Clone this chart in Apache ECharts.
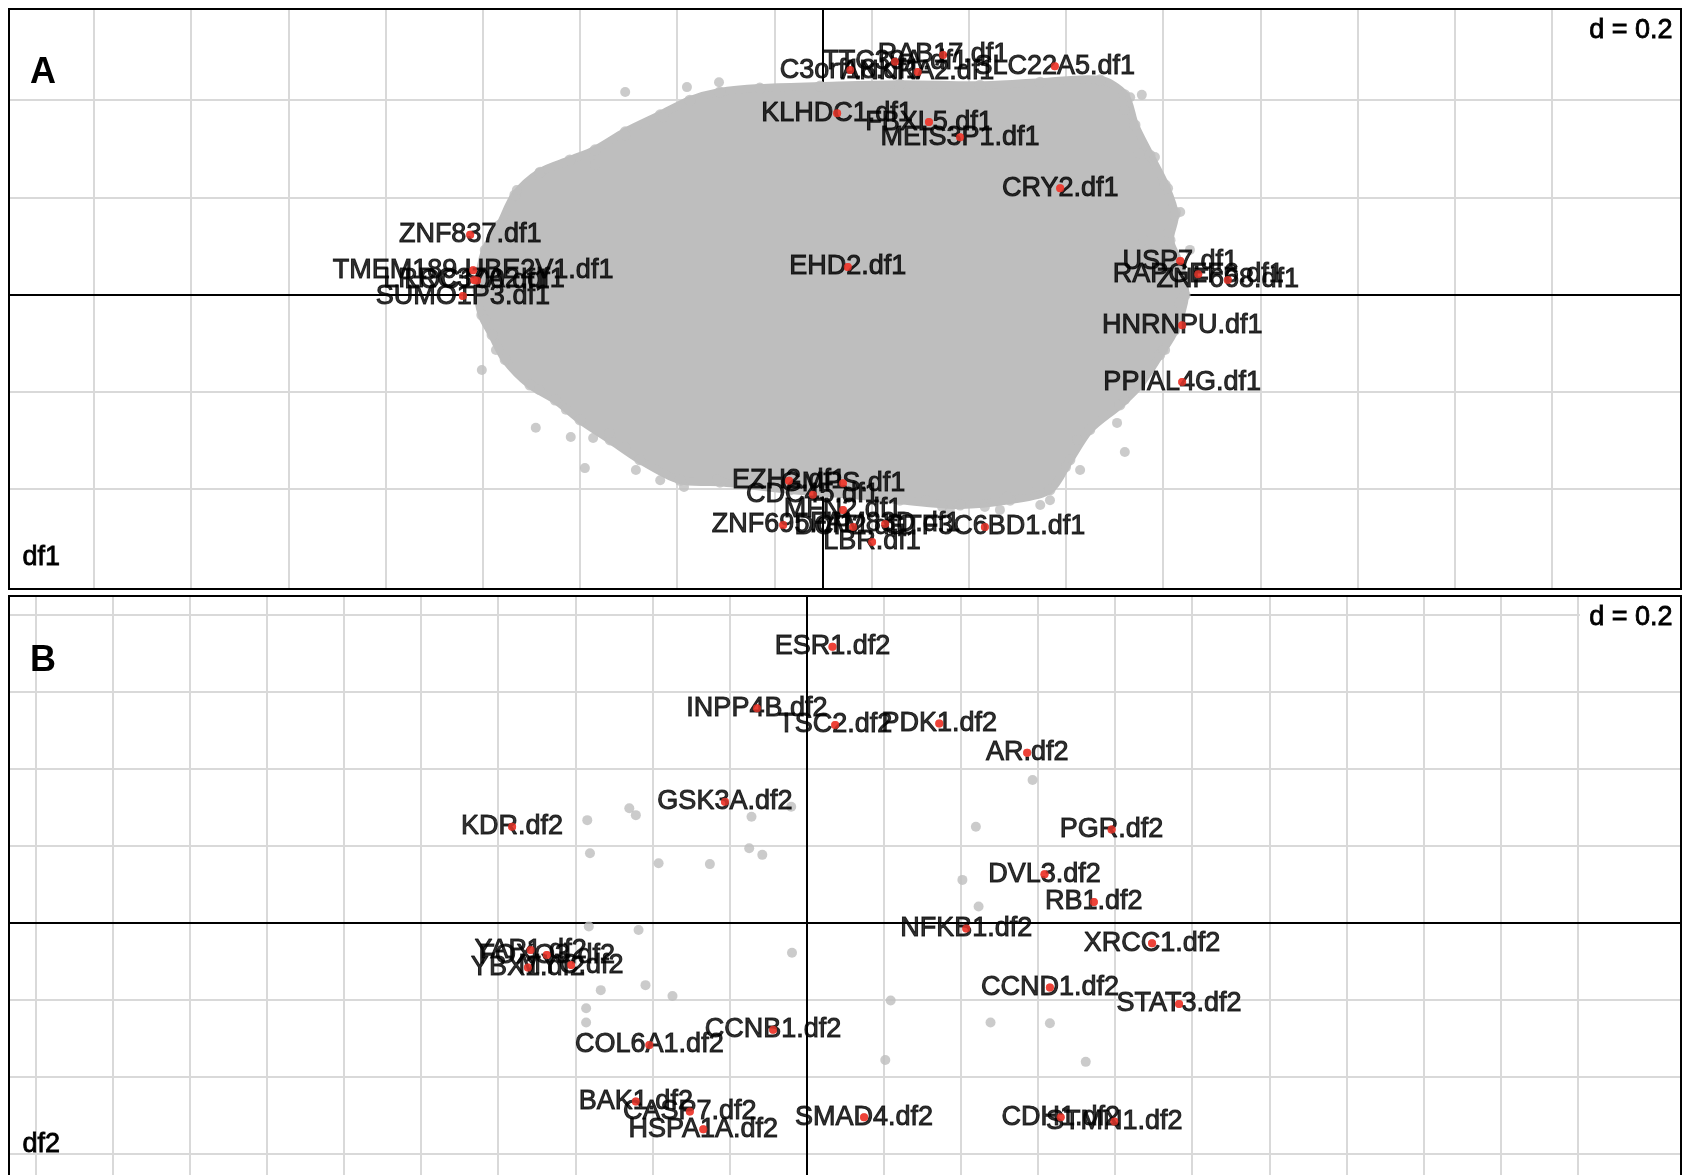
<!DOCTYPE html>
<html><head><meta charset="utf-8">
<script src="https://cdn.jsdelivr.net/npm/echarts@6/dist/echarts.min.js"></script>
<style>html,body{margin:0;padding:0;background:#fff}#c{width:1690px;height:1175px}</style>
</head><body><div id="c"></div>
<script>
// ---------- grid (d = 0.2) ----------
const gridXA = [-1.5,-1.3,-1.1,-0.9,-0.7,-0.5,-0.3,-0.1,0.1,0.3,0.5,0.7,0.9,1.1,1.3,1.5];
const gridYA = [-0.4,-0.2,0,0.2,0.4];
const gridXB = [-2.0,-1.8,-1.6,-1.4,-1.2,-1.0,-0.8,-0.6,-0.4,-0.2,0,0.2,0.4,0.6,0.8,1.0,1.2,1.4,1.6,1.8,2.0];
const gridYB = [-0.6,-0.4,-0.2,0,0.2,0.4,0.6,0.8];

// ---------- panel A: outline of the dense grey cloud (df1 genes) ----------
const cloudX = [-0.710,-0.695,-0.665,-0.634,-0.582,-0.521,-0.469,-0.407,-0.335,-0.274,-0.212,-0.130,-0.006,0.158,0.323,0.447,0.570,0.621,0.642,0.673,0.704,0.724,0.714,0.735,0.745,0.724,0.693,0.652,0.611,0.549,0.508,0.467,0.385,0.282,0.158,0.056,-0.068,-0.212,-0.294,-0.377,-0.438,-0.500,-0.551,-0.603,-0.654,-0.681,-0.702];
const cloudY = [0.009,0.092,0.143,0.205,0.252,0.277,0.298,0.335,0.370,0.400,0.417,0.425,0.429,0.433,0.431,0.437,0.442,0.411,0.349,0.287,0.226,0.164,0.112,0.061,-0.001,-0.073,-0.124,-0.186,-0.227,-0.278,-0.340,-0.402,-0.423,-0.433,-0.423,-0.412,-0.402,-0.386,-0.382,-0.340,-0.299,-0.258,-0.217,-0.186,-0.134,-0.083,-0.042];
// scattered grey points on the ragged edge of the cloud
const edgeAX = [-0.407,-0.280,-0.214,-0.702,-0.591,-0.519,-0.490,-0.385,-0.335,0.605,0.621,0.656,0.710,0.735,0.755,0.704,0.447,0.364,0.261,0.529,
  -0.329,-0.407,-0.469,-0.584,-0.630,-0.652,-0.695,-0.673,-0.584,-0.529,-0.473,-0.440,-0.407,-0.286,-0.218,0.733,0.700,0.621,0.523,0.500,0.467,0.422,0.379,0.333,0.245,0.212,0.123,0.632,0.621,0.650,0.683,0.726,0.710,0.660,0.621];
const edgeAY = [0.417,0.427,0.437,-0.155,-0.274,-0.293,-0.357,-0.361,-0.382,-0.264,-0.324,0.411,0.219,0.170,0.092,-0.114,-0.433,-0.443,-0.443,-0.361,
  0.365,0.328,0.267,0.250,0.215,0.127,-0.052,-0.114,-0.196,-0.237,-0.295,-0.285,-0.314,-0.396,-0.381,-0.017,-0.114,-0.217,-0.299,-0.355,-0.423,-0.402,-0.416,-0.437,-0.437,-0.423,-0.408,0.406,0.380,0.291,0.283,0.170,0.127,0.112,0.065];

// ---------- panel A: labelled genes ----------
const labA = ['C3orf18.df1','TTC39A.df1','ANKRA2.df1','RAB17.df1','SLC22A5.df1','KLHDC1.df1','FBXL5.df1','MEIS3P1.df1','CRY2.df1','ZNF837.df1','EHD2.df1','USP7.df1','RAPGEF6.df1','ZNF668.df1','HNRNPU.df1','PPIAL4G.df1','TMEM189.UBE2V1.df1','LRRC37A2.df1','LOC100.df1','SUMO1P3.df1','EZH2.df1','GMPS.df1','CDC45.df1','MFN2.df1','ZNF695.df1','GTF3C6BD1.df1','LBR.df1','DCP2.df1','FAM83D.df1'];
const labAX = [0.056,0.148,0.195,0.247,0.477,0.029,0.218,0.282,0.488,-0.726,0.051,0.735,0.772,0.833,0.739,0.739,-0.720,-0.718,-0.712,-0.741,-0.070,0.041,-0.021,0.041,-0.082,0.333,0.101,0.062,0.128];
const labAY = [0.462,0.479,0.458,0.493,0.470,0.373,0.355,0.324,0.219,0.123,0.057,0.069,0.042,0.030,-0.063,-0.180,0.050,0.030,0.029,-0.003,-0.383,-0.388,-0.412,-0.443,-0.474,-0.478,-0.509,-0.478,-0.472];

// ---------- panel B: grey points (df2 genes) ----------
const grayBX = [-0.460,-0.443,-0.569,-0.143,-0.040,-0.562,-0.384,-0.251,-0.149,-0.115,0.586,0.439,0.404,0.446,0.218,0.477,0.631,0.204,0.724,-0.565,-0.436,-0.038,-0.534,-0.418,-0.348,-0.572,-0.572];
const grayBY = [0.297,0.279,0.266,0.275,0.301,0.180,0.154,0.152,0.193,0.176,0.370,0.249,0.111,0.042,-0.202,-0.259,-0.261,-0.356,-0.361,-0.010,-0.019,-0.078,-0.175,-0.162,-0.190,-0.222,-0.259];

// ---------- panel B: labelled genes ----------
const labB = ['ESR1.df2','INPP4B.df2','TSC2.df2','PDK1.df2','AR.df2','GSK3A.df2','KDR.df2','PGR.df2','DVL3.df2','RB1.df2','NFKB1.df2','XRCC1.df2','CCND1.df2','STAT3.df2','CDH1.df2','STMN1.df2','SMAD4.df2','YAP1.df2','FOXO3.df2','MYC.df2','YBX1.df2','COL6A1.df2','CCNB1.df2','BAK1.df2','CASP7.df2','HSPA1A.df2'];
const labBX = [0.067,-0.129,0.074,0.344,0.572,-0.212,-0.764,0.791,0.617,0.745,0.414,0.896,0.631,0.966,0.659,0.798,0.149,-0.716,-0.674,-0.611,-0.723,-0.408,-0.087,-0.443,-0.303,-0.268];
const labBY = [0.716,0.556,0.513,0.517,0.441,0.314,0.249,0.242,0.126,0.054,-0.015,-0.053,-0.168,-0.211,-0.505,-0.516,-0.505,-0.071,-0.084,-0.110,-0.116,-0.317,-0.278,-0.464,-0.490,-0.536];

const GRAY = '#bebebe', RED = '#ee3b2f', GRIDC = '#d9d9d9';
const FONT = '"Liberation Sans", Arial, sans-serif';
const zip = (xs, ys) => xs.map((x, i) => [x, ys[i]]);
const named = (ns, xs, ys) => ns.map((n, i) => ({name: n, value: [xs[i], ys[i]]}));

function gridSeries(idx, gx, gy) {
  return [{
    type: 'scatter', xAxisIndex: idx, yAxisIndex: idx, data: [], z: 0, silent: true,
    markLine: {z: 0, silent: true, symbol: 'none', animation: false, label: {show: false},
      lineStyle: {color: GRIDC, width: 2, type: 'solid'},
      data: gx.map(v => ({xAxis: v})).concat(gy.map(v => ({yAxis: v})))}
  }, {
    type: 'scatter', xAxisIndex: idx, yAxisIndex: idx, data: [], z: 1, silent: true,
    markLine: {z: 1, silent: true, symbol: 'none', animation: false, label: {show: false},
      lineStyle: {color: '#000', width: 2, type: 'solid'},
      data: [{xAxis: 0}, {yAxis: 0}]}
  }];
}
function labelSeries(idx, data) {
  return [{
    type: 'scatter', xAxisIndex: idx, yAxisIndex: idx, data: data, z: 3, symbolSize: 8,
    itemStyle: {color: RED},
    label: {show: true, position: 'inside', formatter: '{b}', color: '#000',
      fontSize: 27, fontFamily: FONT, textBorderColor: '#000', textBorderWidth: 1}
  }, {
    type: 'scatter', xAxisIndex: idx, yAxisIndex: idx, data: data, z: 4, symbolSize: 8,
    itemStyle: {color: RED}, label: {show: false}
  }];
}
function dText(top) {
  return [
    {type: 'rect', shape: {x: 1580, y: top, width: 101, height: 40}, style: {fill: '#fff'}, z: 50},
    {type: 'text', right: 17, top: top + 8, style: {text: 'd = 0.2', font: '27px ' + FONT, fill: '#000', stroke: '#000', lineWidth: 0.8}, z: 51}
  ];
}

const chart = echarts.init(document.getElementById('c'), null, {renderer: 'canvas'});
chart.setOption({
  animation: false,
  backgroundColor: '#fff',
  grid: [
    {left: 9, top: 9, width: 1672, height: 580, show: false},
    {left: 9, top: 596, width: 1672, height: 579, show: false}
  ],
  xAxis: [
    {gridIndex: 0, type: 'value', min: -1.6749, max: 1.7654, show: false},
    {gridIndex: 1, type: 'value', min: -2.069, max: 2.268, show: false}
  ],
  yAxis: [
    {gridIndex: 0, type: 'value', min: -0.6058, max: 0.5877, show: false},
    {gridIndex: 1, type: 'value', min: -0.6545, max: 0.8475, show: false}
  ],
  series: [
    ...gridSeries(0, gridXA, gridYA),
    ...gridSeries(1, gridXB, gridYB),
    {
      type: 'custom', xAxisIndex: 0, yAxisIndex: 0, z: 2, silent: true, data: [[0, 0]],
      renderItem: function (params, api) {
        const pts = cloudX.map((x, i) => api.coord([x, cloudY[i]]));
        return {type: 'polygon', shape: {points: pts, smooth: 0.3},
          style: {fill: GRAY, stroke: GRAY, lineWidth: 8, lineJoin: 'round'}};
      }
    },
    {type: 'scatter', xAxisIndex: 0, yAxisIndex: 0, z: 2, symbolSize: 11, itemStyle: {color: GRAY}, data: zip(cloudX, cloudY)},
    {type: 'scatter', xAxisIndex: 0, yAxisIndex: 0, z: 2, symbolSize: 10, itemStyle: {color: GRAY}, data: zip(edgeAX, edgeAY)},
    {type: 'scatter', xAxisIndex: 1, yAxisIndex: 1, z: 2, symbolSize: 10, itemStyle: {color: GRAY}, data: zip(grayBX, grayBY)},
    ...labelSeries(0, named(labA, labAX, labAY)),
    ...labelSeries(1, named(labB, labBX, labBY))
  ],
  graphic: [
    ...dText(9), ...dText(596),
    {type: 'rect', shape: {x: 9, y: 9, width: 1672, height: 580}, style: {fill: 'none', stroke: '#000', lineWidth: 2}, z: 60},
    {type: 'rect', shape: {x: 9, y: 596, width: 1672, height: 640}, style: {fill: 'none', stroke: '#000', lineWidth: 2}, z: 60},
    {type: 'text', left: 30, top: 55, style: {text: 'A', font: 'bold 36px ' + FONT, fill: '#000'}, z: 51},
    {type: 'text', left: 30, top: 643, style: {text: 'B', font: 'bold 36px ' + FONT, fill: '#000'}, z: 51},
    {type: 'text', left: 22, top: 544, style: {text: 'df1', font: '27px ' + FONT, fill: '#000', stroke: '#000', lineWidth: 0.8}, z: 51},
    {type: 'text', left: 22, top: 1131, style: {text: 'df2', font: '27px ' + FONT, fill: '#000', stroke: '#000', lineWidth: 0.8}, z: 51}
  ]
});
</script></body></html>
